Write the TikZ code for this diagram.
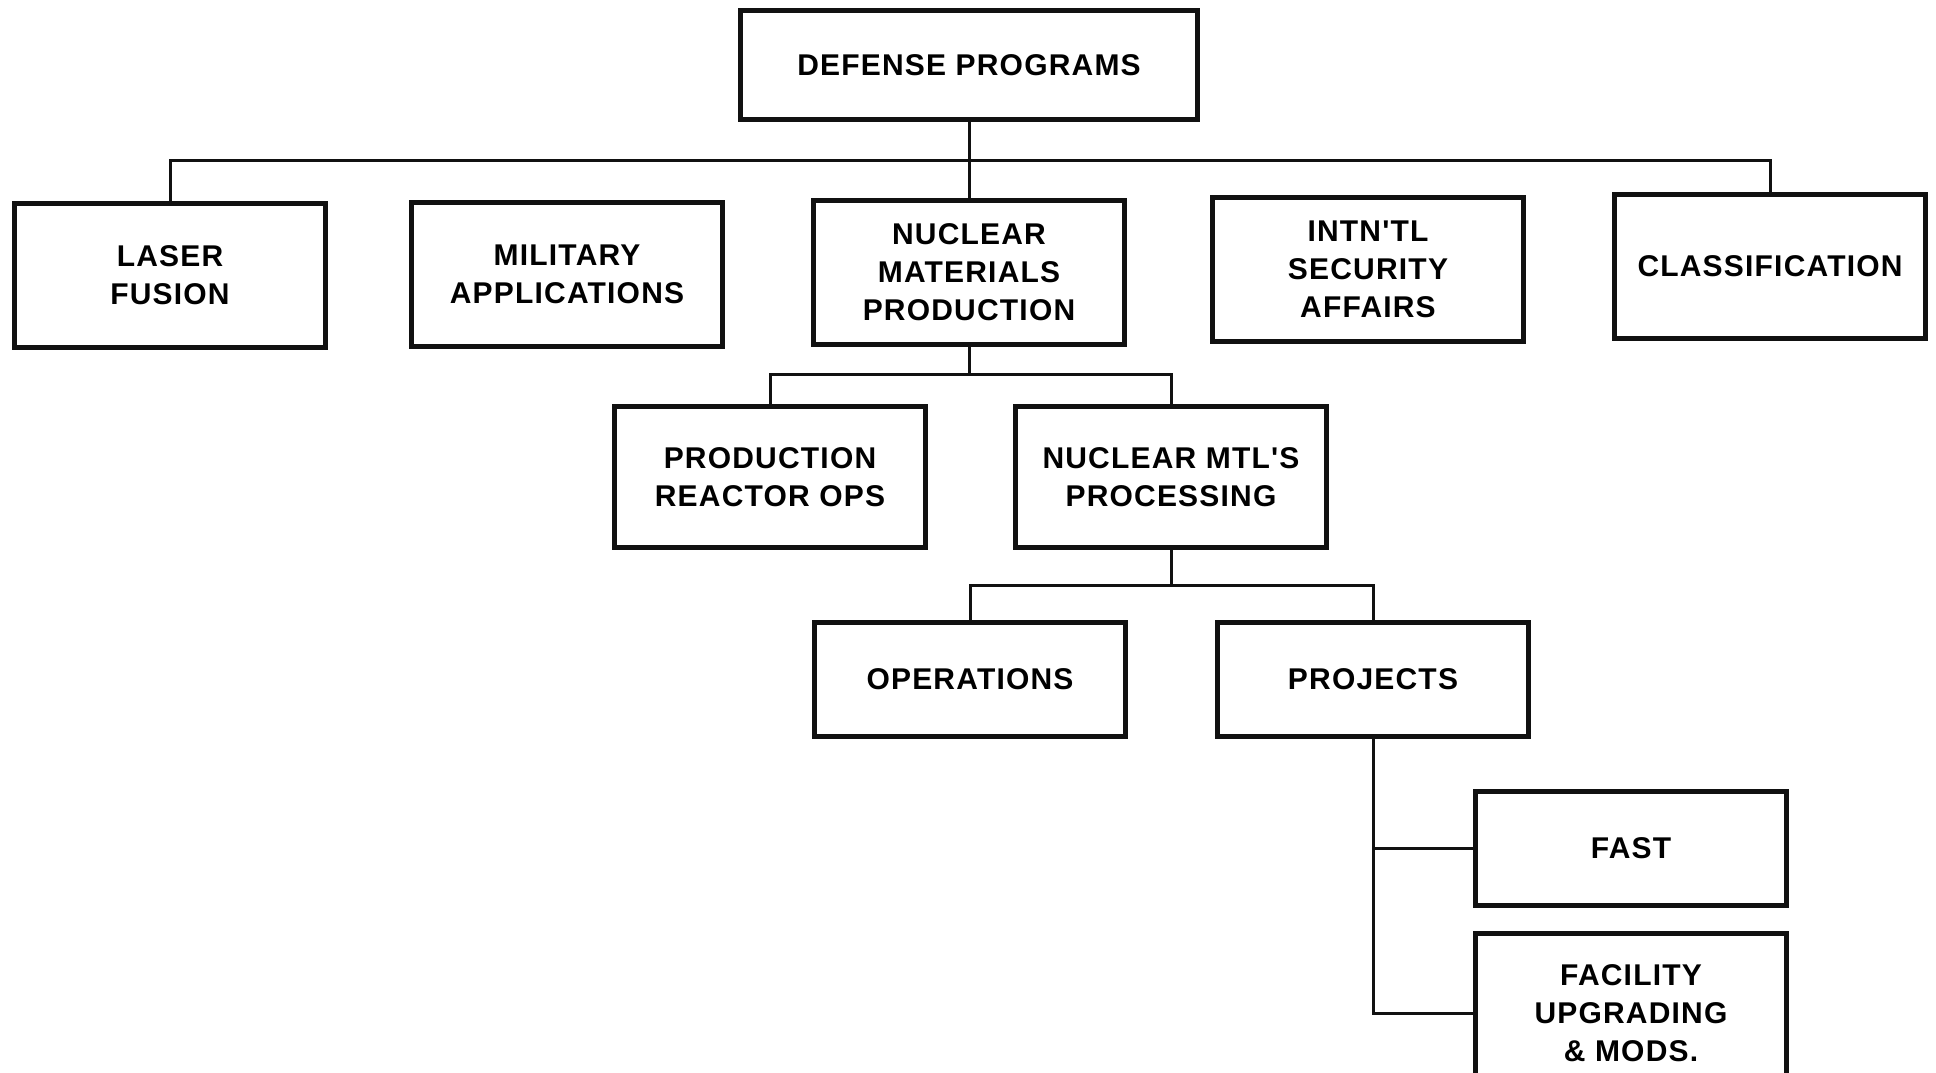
\documentclass[tikz,border=0pt]{standalone}
\usepackage{fontspec}
\newfontfamily\chartfont{Liberation Sans}[LetterSpace=4]
\usepackage{xcolor}
\definecolor{ChartInk}{HTML}{111111}
\usetikzlibrary{positioning}
\tikzset{
  orgbox/.style={draw=ChartInk, line width=5pt, align=center, inner sep=0pt,
                 font=\chartfont\bfseries\fontsize{30}{38}\selectfont,
                 minimum width=311pt, minimum height=144pt},
  orgline/.style={draw=ChartInk, line width=3pt}
}

\begin{document}
\begin{tikzpicture}[x=1pt, y=-1pt]
\useasboundingbox (0,0) rectangle (1936,1073);
% top of the chart
\node[orgbox, minimum width=457pt, minimum height=109pt] (dp) at (969,65) {DEFENSE PROGRAMS};
\node[orgbox] (lf)  at (170,275)  {LASER\\FUSION};
\node[orgbox] (ma)  at (567,274)  {MILITARY\\APPLICATIONS};
\node[orgbox] (nmp) at (969,272)  {NUCLEAR\\MATERIALS\\PRODUCTION};
\node[orgbox] (isa) at (1368,269) {INTN'TL\\SECURITY\\AFFAIRS};
\node[orgbox] (cls) at (1770,266) {CLASSIFICATION};
% under nuclear materials production
\node[orgbox, minimum height=141pt] (pro)  at (770,477)  {PRODUCTION\\REACTOR OPS};
\node[orgbox, minimum height=141pt] (nmtl) at (1171,477) {NUCLEAR MTL'S\\PROCESSING};
\node[orgbox, minimum height=114pt] (ops)  at (970,679)  {OPERATIONS};
\node[orgbox, minimum height=114pt] (prj)  at (1373,679) {PROJECTS};
\node[orgbox, minimum height=114pt] (fast) at (1631,848) {FAST};
\node[orgbox, minimum height=160pt] (fac)  at (1631,1013) {FACILITY\\UPGRADING\\\& MODS.};

% connectors
\coordinate (bus1) at (0,160);
\coordinate (bus2) at (0,374);
\coordinate (bus3) at (0,585);
\draw[orgline] (dp.south) -- (nmp.north);
\draw[orgline] (lf.north) |- (cls.north |- bus1) -- (cls.north);
\draw[orgline] (nmp.south) -- (nmp.south |- bus2);
\draw[orgline] (pro.north) |- (nmtl.north |- bus2) -- (nmtl.north);
\draw[orgline] (nmtl.south) -- (nmtl.south |- bus3);
\draw[orgline] (ops.north) |- (prj.north |- bus3) -- (prj.north);
\draw[orgline] (prj.south) |- (fac.west);
\draw[orgline] (prj.south |- fast.west) -- (fast.west);
\end{tikzpicture}
\end{document}
